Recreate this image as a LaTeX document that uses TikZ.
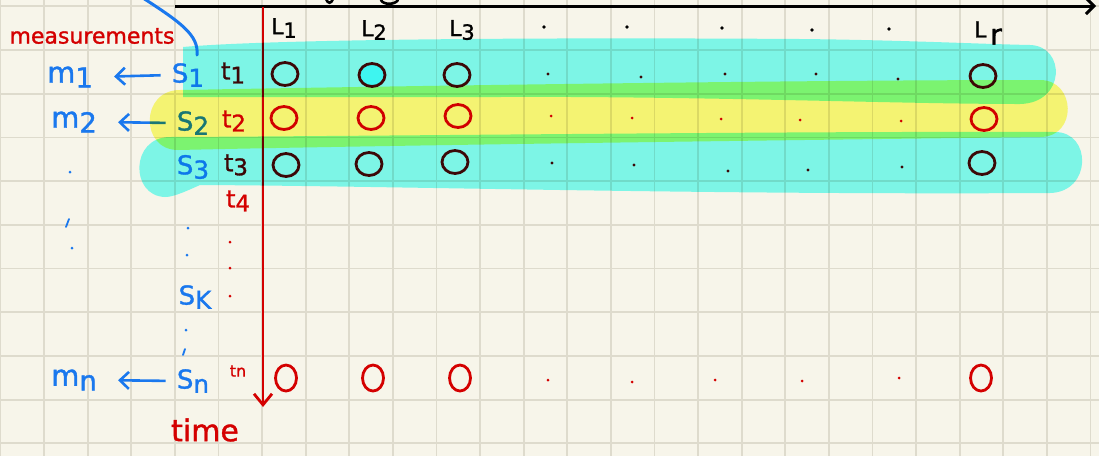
\documentclass[tikz,border=0pt]{standalone}
\usepackage{fontspec}
\setmainfont{DejaVu Sans}
\newfontfamily\hand[FakeBold=1.2]{DejaVu Sans}
\usetikzlibrary{arrows.meta,shapes.geometric}
\definecolor{paper}{HTML}{F7F5EA}
\definecolor{gridline}{HTML}{DEDBCD}
\definecolor{inkblue}{HTML}{1A78EE}
\definecolor{inkred}{HTML}{D40000}
\definecolor{inkdark}{HTML}{760808}
\definecolor{hlcyan}{HTML}{82FFFB}
\definecolor{hlyellow}{HTML}{FCFD7D}
\definecolor{hlfill}{HTML}{7AF5F4}
\newcommand{\lo}[1]{\raisebox{-0.3ex}{\scalebox{0.95}{#1}}}

\begin{document}
\begin{tikzpicture}[x=1pt,y=-1pt,
  grid line/.style={gridline,line width=1.8pt},
  ring/.style={ellipse,draw,line width=2.8pt,minimum width=26pt,minimum height=23pt,inner sep=0pt},
  oval/.style={ring,minimum width=21pt,minimum height=26pt},
  lab/.style={inner sep=1pt,font=\hand\fontsize{26}{26}\selectfont},
  mlab/.style={inner sep=1pt,font=\hand\fontsize{29}{29}\selectfont},
  tlab/.style={inner sep=1pt,font=\hand\fontsize{24}{24}\selectfont},
  ptr/.style={inkblue,line width=2.6pt,shorten <=10pt,shorten >=20pt,-{Straight Barb[length=9pt,width=17pt]}},
  pen/.style={line width=2.6pt,line cap=round}]
  % paper and grid
  \fill[paper] (0,0) rectangle (1099,456);
  \useasboundingbox (0,0) rectangle (1099,456);
  \foreach \i in {0,...,25} \draw[grid line] ({0.4+43.6*\i},0) -- ({0.4+43.6*\i},456);
  \foreach \j in {0,...,10} \draw[grid line] (0,{6.3+43.7*\j}) -- (1099,{6.3+43.7*\j});

  % axes
  \coordinate (ax0) at (175,6);
  \coordinate (ax1) at (1096,6);
  \draw[line width=3pt,-{Straight Barb[length=8pt,width=16pt]}] (ax0) -- (ax1);
  \coordinate (tm0) at (263,7);
  \coordinate (tm1) at (263,407);
  \draw[inkred,line width=2.8pt,-{Straight Barb[length=11pt,width=18pt]}] (tm0) -- (tm1);
  % bits cut off at the top edge
  \draw[pen] (326,-1) .. controls (328,4) and (331,4) .. (333,-1);
  \draw[pen] (381,0) .. controls (383,5) and (395,5) .. (398,0);

  % measurements
  \node[inkred,inner sep=1pt,font=\hand\fontsize{22}{22}\selectfont] (meas) at (92,36) {measurements};
  \coordinate (bend0) at (143,-2);
  \coordinate (bend1) at (197,55);
  \draw[inkblue,pen,line width=3pt] (bend0) .. controls (180,22) and (199,35) .. (bend1);

  % column heads
  \foreach \name/\txt/\x/\y in {L1/L\lo{1}/284/28, L2/L\lo{2}/374/30, L3/L\lo{3}/462/30, Lr/L\,\raisebox{-0.6ex}{\scalebox{1.3}{r}}/988/33}
    \node[inner sep=1pt,font=\hand\fontsize{22}{22}\selectfont] (\name) at (\x,\y) {\txt};
  \foreach \x/\y in {544/27,627/27,722/28,812/30,889/29} \fill (\x,\y) circle (1.8pt);

  % sensors and measurements
  \node[lab,inkblue] (S1) at (188,75) {S\lo{1}};
  \node[mlab,inkblue] (m1) at (70,77) {m\lo{1}};
  \draw[ptr] (S1.west) -- (m1.east);
  \node[lab,inkblue] (S2) at (193,123) {S\lo{2}};
  \node[mlab,inkblue] (m2) at (74,122) {m\lo{2}};
  \draw[ptr] (S2.west) -- (m2.east);
  \node[lab,inkblue] (S3) at (193,167) {S\lo{3}};
  \node[lab,inkblue] (Sk) at (195,297) {S\lo{K}};
  \node[lab,inkblue] (Sn) at (193,381) {S\lo{n}};
  \node[mlab,inkblue] (mn) at (74,380) {m\lo{n}};
  \draw[ptr] (Sn.west) -- (mn.east);
  \foreach \x/\y in {70/172,72/248,188/228,187/255,186/330} \fill[inkblue] (\x,\y) circle (1.5pt);
  \draw[inkblue,pen,line width=1.8pt] (66,227) -- (69,219);
  \draw[inkblue,pen,line width=1.8pt] (183,355) -- (185,349);

  % time steps
  \foreach \name/\txt/\x/\y/\c in {t1/t\lo{1}/233/73/inkdark, t2/t\lo{2}/234/121/inkred, t3/t\lo{3}/236/165/inkdark, t4/t\lo{4}/238/201/inkred}
    \node[tlab,text=\c] (\name) at (\x,\y) {\txt};
  \node[inkred,inner sep=1pt,font=\hand\fontsize{16}{16}\selectfont] (tn) at (238,371) {tn};
  \node[inkred,inner sep=1pt,font=\hand\fontsize{30}{30}\selectfont] (time) at (205,430) {time};
  \foreach \y in {242,268,296} \fill[inkred] (230,\y) circle (1.5pt);

  % row 1
  \foreach \name/\x/\y in {a1/285/74, a3/457/75, ar/983/76} \node[ring,inkdark] (\name) at (\x,\y) {};
  \node[ring,inkdark,fill=hlfill] (a2) at (372,75) {};
  \foreach \x/\y in {548/74,641/77,725/74,816/74,898/79} \fill[inkdark] (\x,\y) circle (1.6pt);
  % row 2
  \foreach \name/\x/\y in {b1/284/118, b2/371/118, b3/458/116, br/984/119} \node[ring,inkred] (\name) at (\x,\y) {};
  \foreach \x/\y in {551/116,632/118,721/119,800/120,901/121} \fill[inkred] (\x,\y) circle (1.5pt);
  % row 3
  \foreach \name/\x/\y in {c1/286/165, c2/369/164, c3/455/162, cr/982/163} \node[ring,inkdark] (\name) at (\x,\y) {};
  \foreach \x/\y in {552/163,634/165,728/171,808/170,902/167} \fill[inkdark] (\x,\y) circle (1.6pt);
  % row n
  \foreach \name/\x/\y in {n1/286/378, n2/373/378, n3/460/378, nr/981/378} \node[oval,inkred] (\name) at (\x,\y) {};
  \foreach \x/\y in {548/380,632/382,715/380,802/381,899/378} \fill[inkred] (\x,\y) circle (1.5pt);

  % highlighter
  \begin{scope}[blend mode=multiply]
    \fill[hlcyan] (183,47) .. controls (260,40) and (500,37) .. (800,39)
      .. controls (900,40) and (980,44) .. (1030,45)
      .. controls (1066,46) and (1066,103) .. (1020,104)
      .. controls (900,104) and (700,96) .. (500,97) -- (183,97) -- cycle;
    \fill[hlyellow] (180,90) .. controls (400,86) and (800,80) .. (1040,80)
      .. controls (1076,80) and (1078,137) .. (1040,137)
      .. controls (800,140) and (400,145) .. (178,150)
      .. controls (140,150) and (140,90) .. (180,90) -- cycle;
    \fill[hlcyan] (170,137) .. controls (400,136) and (800,131) .. (1055,132)
      .. controls (1092,132) and (1092,192) .. (1050,193)
      .. controls (700,195) and (400,186) .. (200,185)
      .. controls (180,194) and (172,197) .. (165,197)
      .. controls (130,196) and (130,137) .. (170,137) -- cycle;
  \end{scope}
\end{tikzpicture}
\end{document}
